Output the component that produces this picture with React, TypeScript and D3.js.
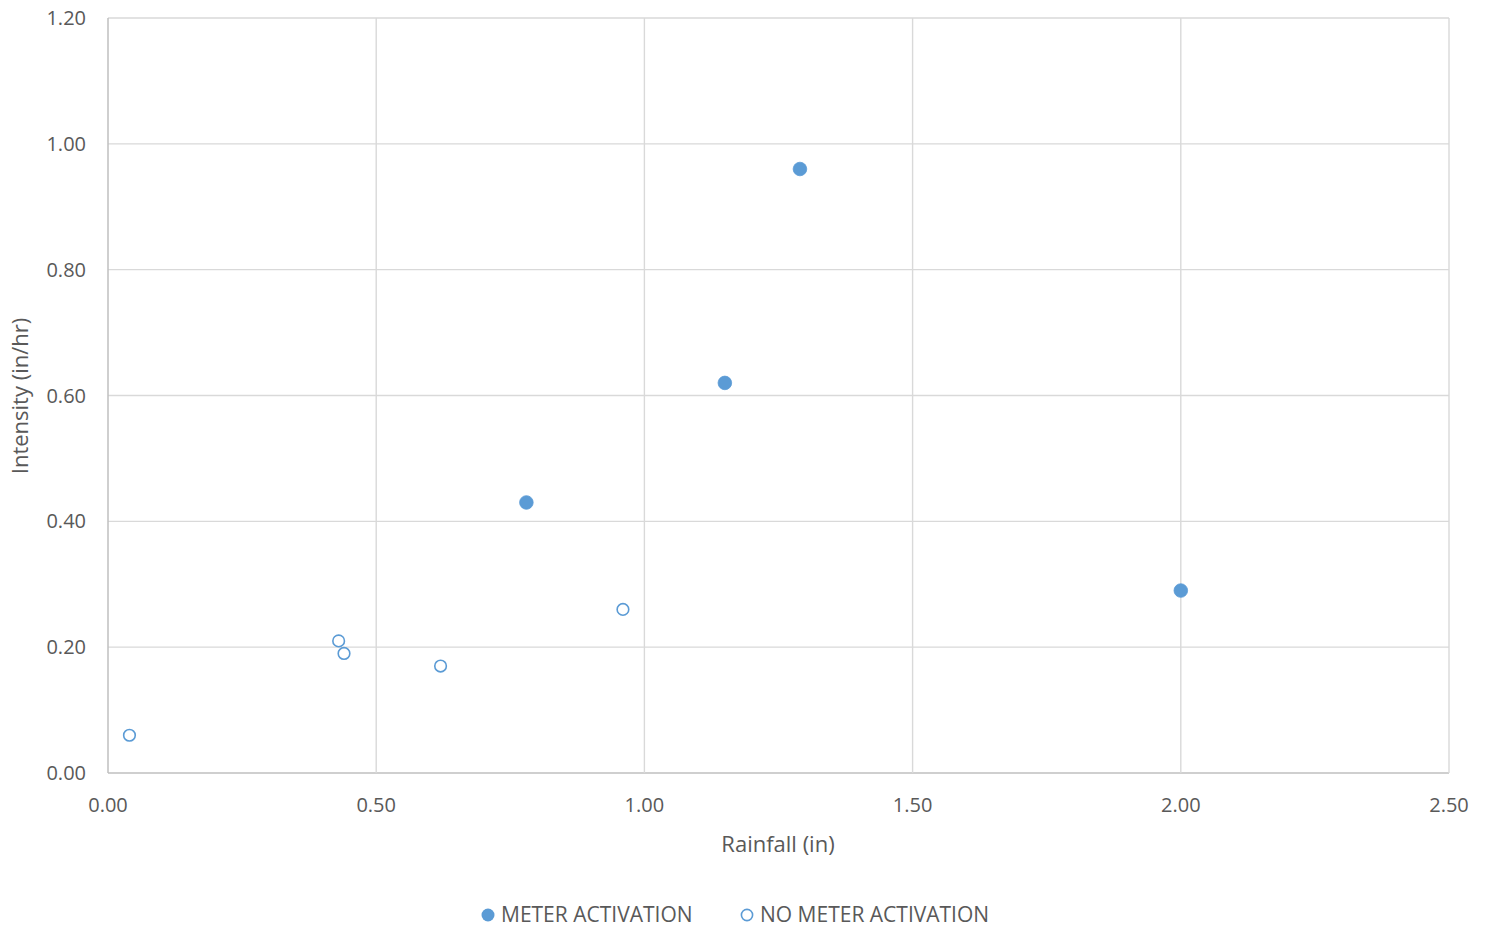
import React from "react";
import * as d3 from "d3";

const meterX = [0.78, 1.15, 1.29, 2.0];
const meterY = [0.43, 0.62, 0.96, 0.29];
const noMeterX = [0.04, 0.43, 0.44, 0.62, 0.96];
const noMeterY = [0.06, 0.21, 0.19, 0.17, 0.26];
const xTicks = [0, 0.5, 1.0, 1.5, 2.0, 2.5];
const yTicks = [0, 0.2, 0.4, 0.6, 0.8, 1.0, 1.2];
const seriesNames = ["METER ACTIVATION", "NO METER ACTIVATION"];

const W = 1490, H = 931;
const left = 108, right = 1449, top = 18, bottom = 773;
const color = "#5B9BD5";
const font = "'Open Sans', sans-serif";
const textColor = "#595959";

export default function App() {
  const x = d3.scaleLinear().domain([0, 2.5]).range([left, right]);
  const y = d3.scaleLinear().domain([0, 1.2]).range([bottom, top]);
  return (
    <svg width={W} height={H} style={{ position: "absolute", left: 0, top: 0 }} fontFamily={font}>
      <rect width={W} height={H} fill="#fff" />
      {yTicks.map((t) => (
        <line key={"gy" + t} x1={left} x2={right} y1={y(t)} y2={y(t)} stroke={t === 0 ? "#bfbfbf" : "#d9d9d9"} strokeWidth={t === 0 ? 1.5 : 1.4} />
      ))}
      {xTicks.map((t) => (
        <line key={"gx" + t} x1={x(t)} x2={x(t)} y1={top} y2={bottom} stroke={t === 0 ? "#bfbfbf" : "#d9d9d9"} strokeWidth={t === 0 ? 1.5 : 1.4} />
      ))}
      {yTicks.map((t) => (
        <text key={"ty" + t} x={86} y={y(t)} dy="0.35em" textAnchor="end" fontSize={20} fill={textColor}>{t.toFixed(2)}</text>
      ))}
      {xTicks.map((t) => (
        <text key={"tx" + t} x={x(t)} y={805} dy="0.35em" textAnchor="middle" fontSize={20} fill={textColor}>{t.toFixed(2)}</text>
      ))}
      <text x={778} y={844} dy="0.35em" textAnchor="middle" fontSize={22} fill={textColor}>Rainfall (in)</text>
      <text transform={`translate(20,396) rotate(-90)`} dy="0.35em" textAnchor="middle" fontSize={22} fill={textColor}>Intensity (in/hr)</text>
      {noMeterX.map((v, i) => (
        <circle key={"n" + i} cx={x(v)} cy={y(noMeterY[i])} r={5.8} fill="#fff" stroke={color} strokeWidth={1.6} />
      ))}
      {meterX.map((v, i) => (
        <circle key={"m" + i} cx={x(v)} cy={y(meterY[i])} r={6.8} fill={color} stroke={color} strokeWidth={0.8} />
      ))}
      <circle cx={488} cy={915} r={6.5} fill={color} />
      <text x={501} y={915} dy="0.35em" fontSize={21} fill={textColor}>{seriesNames[0]}</text>
      <circle cx={747} cy={915} r={5.6} fill="#fff" stroke={color} strokeWidth={1.6} />
      <text x={760} y={915} dy="0.35em" fontSize={21} fill={textColor}>{seriesNames[1]}</text>
    </svg>
  );
}
